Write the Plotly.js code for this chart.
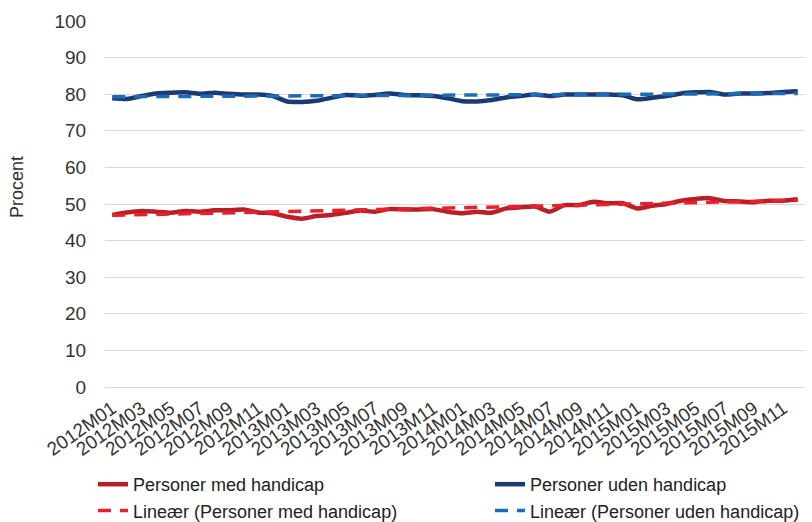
<!DOCTYPE html>
<html>
<head>
<meta charset="utf-8">
<script src="https://cdn.plot.ly/plotly-3.0.1.min.js"></script>
<style>html,body{margin:0;padding:0;background:#fff;}#chart{width:812px;height:522px;}</style>
</head>
<body>
<div id="chart"></div>
<script>
// Months 2012M01 .. 2015M12
const years = [2012, 2013, 2014, 2015];
const months = ["01","02","03","04","05","06","07","08","09","10","11","12"];
const categories = [];
years.forEach(y => months.forEach(m => categories.push(y + "M" + m)));

const medHandicap = [
  47.0, 47.7, 48.1, 47.9, 47.6, 48.1, 47.9, 48.3, 48.3, 48.5, 47.7, 47.5,
  46.5, 46.0, 46.7, 47.0, 47.6, 48.2, 47.9, 48.6, 48.5, 48.5, 48.6, 47.9,
  47.5, 47.9, 47.6, 48.8, 49.1, 49.3, 47.9, 49.7, 49.7, 50.6, 50.2, 50.2,
  48.8, 49.5, 50.0, 50.9, 51.4, 51.6, 50.8, 50.7, 50.5, 50.9, 50.9, 51.3
];
const udenHandicap = [
  78.9, 78.7, 79.5, 80.2, 80.4, 80.5, 80.1, 80.4, 80.1, 79.9, 79.9, 79.5,
  78.0, 77.9, 78.2, 79.0, 79.8, 79.6, 79.8, 80.2, 79.8, 79.7, 79.5, 78.9,
  78.1, 78.0, 78.4, 79.1, 79.5, 79.9, 79.5, 79.9, 79.9, 79.9, 79.9, 79.7,
  78.6, 79.0, 79.5, 80.2, 80.5, 80.6, 79.9, 80.2, 80.2, 80.3, 80.6, 80.8
];
// Linear trend lines: value at first and last month
const trendCats = [categories[0], categories[categories.length - 1]];
const trendMed = [46.9, 51.0];
const trendUden = [79.3, 80.2];

const tickLabels = categories.filter((c, i) => i % 2 === 0);
const yTitle = "Procent";

const names = ["Personer med handicap", "Personer uden handicap",
               "Lineær (Personer med handicap)", "Lineær (Personer uden handicap)"];

const traces = [
  {x: categories, y: medHandicap, name: names[0], type: "scatter", mode: "lines", legend: "legend",
   line: {color: "#b81f28", width: 4.5, shape: "spline", smoothing: 0.6}},
  {x: categories, y: udenHandicap, name: names[1], type: "scatter", mode: "lines", legend: "legend2",
   line: {color: "#1c3a72", width: 4.5, shape: "spline", smoothing: 0.6}},
  {x: trendCats, y: trendMed, name: names[2], type: "scatter", mode: "lines", legend: "legend",
   line: {color: "#e8202a", width: 3.5, dash: "13px,9px"}},
  {x: trendCats, y: trendUden, name: names[3], type: "scatter", mode: "lines", legend: "legend2",
   line: {color: "#1a6cb8", width: 3.5, dash: "13px,9px"}}
];

const font = "'Liberation Sans', Arial, sans-serif";
const legendCommon = {
  orientation: "v", xref: "container", yref: "container",
  xanchor: "left", yanchor: "top", y: 1 - 466 / 522,
  bgcolor: "rgba(0,0,0,0)", tracegroupgap: 0,
  font: {family: font, size: 18, color: "#222"},
  traceorder: "normal", itemclick: false, itemdoubleclick: false
};
const layout = {
  width: 812, height: 522,
  margin: {l: 105, r: 7, t: 21, b: 135, autoexpand: false},
  paper_bgcolor: "#fff", plot_bgcolor: "#fff",
  font: {family: font, color: "#222"},
  showlegend: true,
  legend: Object.assign({}, legendCommon, {x: 93 / 812}),
  legend2: Object.assign({}, legendCommon, {x: 490 / 812}),
  xaxis: {
    type: "category", categoryorder: "array", categoryarray: categories,
    tickmode: "array", tickvals: tickLabels, ticktext: tickLabels,
    tickangle: -35, tickfont: {family: font, size: 19, color: "#333"},
    showgrid: false, zeroline: false, showline: false,
    ticks: "outside", ticklen: 2, tickcolor: "rgba(0,0,0,0)",
    range: [-0.5, categories.length - 0.5]
  },
  yaxis: {
    range: [0, 100], dtick: 10, tick0: 0,
    tickfont: {family: font, size: 19, color: "#333"},
    ticks: "outside", ticklen: 14, tickcolor: "rgba(0,0,0,0)",
    gridcolor: "#d9d9d9", gridwidth: 1, zeroline: true, zerolinecolor: "#d9d9d9",
    showline: false
  },
  annotations: [{
    text: yTitle, textangle: -90, showarrow: false,
    xref: "paper", yref: "paper", x: (17 - 105) / 700, y: (387 - 187) / 366,
    xanchor: "center", yanchor: "middle",
    font: {family: font, size: 18, color: "#333"}
  }]
};

Plotly.newPlot("chart", traces, layout, {displayModeBar: false, staticPlot: true});
</script>
</body>
</html>
